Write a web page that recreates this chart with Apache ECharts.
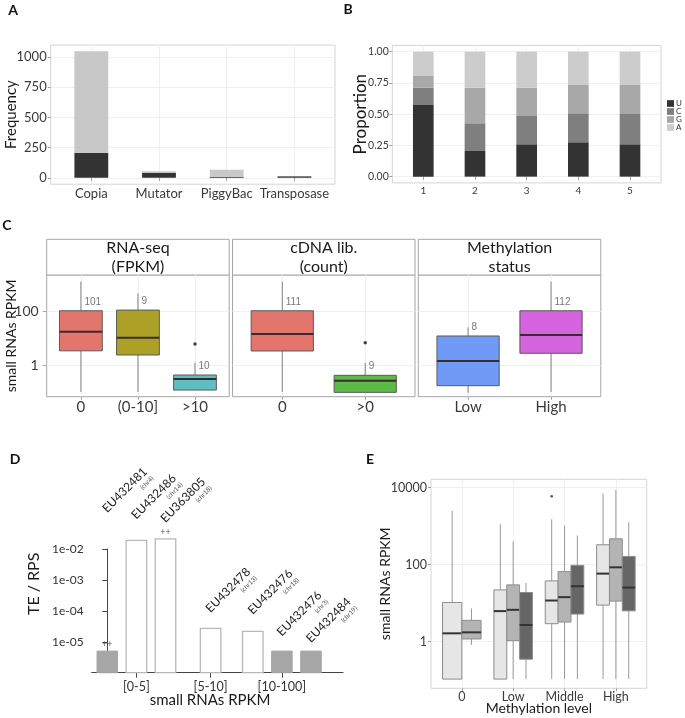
<!DOCTYPE html>
<html><head><meta charset="utf-8">
<script src="https://cdn.jsdelivr.net/npm/echarts@6/dist/echarts.min.js"></script>
<style>html,body{margin:0;padding:0;background:#fff}#c{width:685px;height:718px}</style>
</head><body><div id="c"></div>
<script>
// ================= DATA =================
// Panel A
const aCategories = ['Copia', 'Mutator', 'PiggyBac', 'Transposase'];
const aDark = [207, 40, 10, 14];
const aLight = [839, 15, 58, 2];
const aTicks = [0, 250, 500, 750, 1000];
// Panel B
const bPositions = ['1', '2', '3', '4', '5'];
const bU = [0.573, 0.205, 0.259, 0.275, 0.259];
const bC = [0.139, 0.222, 0.226, 0.232, 0.242];
const bG = [0.093, 0.285, 0.227, 0.226, 0.232];
const bA = [0.195, 0.288, 0.288, 0.267, 0.267];
const bTicks = [0, 0.25, 0.5, 0.75, 1];
// Panel C  (boxes: [lower whisker, Q1, median, Q3, upper whisker])
const cTicks = [1, 100];
const cRnaTitle = 'RNA-seq\n(FPKM)';
const cRnaCats = ['0', '(0-10]', '>10'];
const cRnaBoxes = [[0.11, 3.5, 17.5, 102, 1180], [0.11, 2.46, 10.6, 108, 444], [0.129, 0.129, 0.327, 0.457, 1.29]];
const cRnaCounts = [101, 9, 10];
const cRnaOutliers = [['>10', 6.2]];
const cCdnaTitle = 'cDNA lib.\n(count)';
const cCdnaCats = ['0', '>0'];
const cCdnaBoxes = [[0.11, 3.45, 14.4, 102, 1180], [0.106, 0.106, 0.283, 0.445, 1.29]];
const cCdnaCounts = [111, 9];
const cCdnaOutliers = [['>0', 6.9]];
const cMethTitle = 'Methylation\nstatus';
const cMethCats = ['Low', 'High'];
const cMethBoxes = [[0.103, 0.186, 1.49, 12.2, 25.3], [0.11, 2.84, 13.2, 102, 1180]];
const cMethCounts = [8, 112];
const cMethOutliers = [];
// Panel D
const dIds = ['EU432481', 'EU432486', 'EU363805', 'EU432478', 'EU432476', 'EU432476', 'EU432484'];
const dChr = ['(chr4)', '(chr14)', '(chr18)', '(chr13)', '(chr18)', '(chr3)', '(chr19)'];
const dSlot = [0, 1, 2, 3.55, 5, 6, 7];
const dValues = [5e-6, 0.0191, 0.0211, 2.72e-5, 2.17e-5, 5e-6, 5e-6];
const dDetected = [false, true, true, true, true, false, false];
const dMarks = ['++', '', '++', '', '', '', ''];
const dLabelAt = [0.143, 0.087, 0.068, 8.3e-5, 7.3e-5, 1.45e-5, 8.9e-6];
const dGroups = ['[0-5]', '[5-10]', '[10-100]'];
const dGroupBar = [1, 3, 5];
const dTicks = [1e-5, 1e-4, 1e-3, 1e-2];
// Panel E
const eCats = ['0', 'Low', 'Middle', 'High'];
const eLight = [[0.106, 0.106, 1.64, 10.4, 2540], [0.106, 0.106, 6.2, 22.1, 1150], [0.106, 2.92, 11.7, 37.8, 1517], [0.106, 8.88, 58.5, 329, 7130]];
const eMid = [[0.82, 1.17, 1.74, 3.56, 7.3], [0.106, 1.06, 6.7, 29.8, 401], [0.106, 3.23, 14.3, 65.9, 1020], [0.106, 11.3, 85.3, 470, 8880]];
const eDark = [null, [0.106, 0.349, 2.7, 18.9, 33.6], [0.106, 5.2, 27.5, 96, 574], [0.106, 6.3, 25.4, 164, 1270]];
const eOutliers = [['Middle', 0, 5970]];
const eTicks = [1, 100, 10000];

// ================= LAYOUT / STYLE =================
const FONT = 'Lato, "Open Sans", sans-serif';
const grids = [
  {left: 50.7, top: 45, width: 284.3, height: 139.2},   // A
  {left: 392.3, top: 45.4, width: 268.7, height: 137.5}, // B
  {left: 46.7, top: 275, width: 182.5, height: 121.7},  // C1
  {left: 232.5, top: 275, width: 182.5, height: 121.7}, // C2
  {left: 418.3, top: 275, width: 182.5, height: 121.7}, // C3
  {left: 91.7, top: 549, width: 251.3, height: 123.7},  // D
  {left: 431, top: 479.3, width: 215.7, height: 209}    // E
];
const frameColors = ['#d4d4d4', '#d4d4d4', '#a6a6a6', '#a6a6a6', '#a6a6a6', null, '#d4d4d4'];
const gridOpt = grids.map((g, i) => Object.assign({
  containLabel: false, outerBoundsMode: 'none',
  show: !!frameColors[i], borderColor: frameColors[i] || 'transparent', borderWidth: 1, backgroundColor: 'transparent'
}, g));

const faint = {show: true, lineStyle: {color: '#f0f0f0', width: 1}};
function discreteX(gi, cats, fs, margin, showTicks) {
  const vals = cats.map((c, i) => i + 1);
  return {
    gridIndex: gi, type: 'value', min: 0.4, max: cats.length + 0.6,
    axisLine: {show: false},
    axisTick: {show: showTicks !== false, length: 3, customValues: vals, lineStyle: {color: '#a0a0a0'}},
    axisLabel: {customValues: vals, formatter: v => cats[Math.round(v) - 1], fontSize: fs, color: '#3a3a3a', fontFamily: FONT, margin: margin},
    splitLine: faint, nameMoveOverlap: false
  };
}
const logFmt = v => v >= 1 ? String(Math.round(v)) : String(v);
const sciFmt = v => { const e = Math.round(Math.log10(v)); return '1e' + (e < 0 ? '-' : '+') + String(Math.abs(e)).padStart(2, '0'); };

// ================= AXES =================
const aMax = Math.max(...aDark.map((v, i) => v + aLight[i]));
const xAxes = [], yAxes = [];
// A
xAxes.push(discreteX(0, aCategories, 13, 3));
yAxes.push({gridIndex: 0, type: 'value', min: -0.05 * aMax, max: 1.05 * aMax,
  axisLine: {show: false}, axisTick: {show: true, length: 3, customValues: aTicks, lineStyle: {color: '#a0a0a0'}},
  axisLabel: {customValues: aTicks, formatter: v => String(v), fontSize: 13, color: '#3a3a3a', fontFamily: FONT, margin: 4},
  splitLine: faint,
  name: 'Frequency', nameLocation: 'middle', nameGap: 32.5, nameRotate: 90, nameMoveOverlap: false,
  nameTextStyle: {fontSize: 15, color: '#1a1a1a', fontFamily: FONT}});
// B
xAxes.push(discreteX(1, bPositions, 10, 3));
yAxes.push({gridIndex: 1, type: 'value', min: -0.05, max: 1.05,
  axisLine: {show: false}, axisTick: {show: true, length: 3, customValues: bTicks, lineStyle: {color: '#a0a0a0'}},
  axisLabel: {customValues: bTicks, formatter: v => v.toFixed(2), fontSize: 10.5, color: '#3a3a3a', fontFamily: FONT, margin: 3.5},
  splitLine: faint,
  name: 'Proportion', nameLocation: 'middle', nameGap: 23, nameRotate: 90, nameMoveOverlap: false,
  nameTextStyle: {fontSize: 17, color: '#1a1a1a', fontFamily: FONT}});
// C
const cFacets = [
  {title: cRnaTitle, cats: cRnaCats, boxes: cRnaBoxes, counts: cRnaCounts, outliers: cRnaOutliers, colors: ['#E3756C', '#ADA027', '#5EBEC4']},
  {title: cCdnaTitle, cats: cCdnaCats, boxes: cCdnaBoxes, counts: cCdnaCounts, outliers: cCdnaOutliers, colors: ['#E3756C', '#5EBA48']},
  {title: cMethTitle, cats: cMethCats, boxes: cMethBoxes, counts: cMethCounts, outliers: cMethOutliers, colors: ['#6F9BF6', '#D463DD']}
];
cFacets.forEach((f, k) => {
  const gi = 2 + k;
  xAxes.push(discreteX(gi, f.cats, 15, 3));
  const y = {gridIndex: gi, type: 'log', logBase: 10, min: Math.pow(10, -1.133), max: Math.pow(10, 3.316),
    axisLine: {show: false},
    axisTick: {show: k === 0, length: 4, customValues: cTicks, lineStyle: {color: '#a0a0a0'}},
    axisLabel: {show: k === 0, customValues: cTicks, formatter: logFmt, fontSize: 14, color: '#3a3a3a', fontFamily: FONT, margin: 8},
    splitLine: faint, nameMoveOverlap: false};
  if (k === 0) Object.assign(y, {name: 'small RNAs RPKM', nameLocation: 'middle', nameGap: 28, nameRotate: 90,
    nameTextStyle: {fontSize: 14, color: '#1a1a1a', fontFamily: FONT}});
  yAxes.push(y);
});
// D
const dTickSlots = dGroupBar.map(i => dSlot[i]);
xAxes.push({gridIndex: 5, type: 'value', min: -0.536, max: 8.1,
  axisLine: {show: true, lineStyle: {color: '#444', width: 1}},
  axisTick: {show: true, length: 5, customValues: dTickSlots, lineStyle: {color: '#444'}},
  axisLabel: {customValues: dTickSlots, formatter: v => dGroups[dTickSlots.findIndex(s => Math.abs(s - v) < 1e-6)], fontSize: 12.5, color: '#333', fontFamily: FONT, margin: 8},
  splitLine: {show: false}, nameMoveOverlap: false,
  name: 'small RNAs RPKM', nameLocation: 'middle', nameGap: 20,
  nameTextStyle: {fontSize: 15, color: '#1a1a1a', fontFamily: FONT, padding: [0, 14.6, 0, 0]}});
yAxes.push({gridIndex: 5, type: 'log', logBase: 10, min: 1e-6, max: 1e-2,
  axisLine: {show: true, lineStyle: {color: '#444', width: 1}},
  axisTick: {show: true, length: 5, customValues: dTicks, lineStyle: {color: '#444'}},
  axisLabel: {customValues: dTicks, formatter: sciFmt, fontSize: 12, color: '#333', fontFamily: FONT, margin: 8},
  splitLine: {show: false}, nameMoveOverlap: false,
  name: 'TE / RPS', nameLocation: 'middle', nameGap: 50, nameRotate: 90,
  nameTextStyle: {fontSize: 16, color: '#1a1a1a', fontFamily: FONT, padding: [0, 0, 0, 54]}});
// E
xAxes.push(Object.assign(discreteX(6, eCats, 12.5, 2), {
  name: 'Methylation level', nameLocation: 'middle', nameGap: 13,
  nameTextStyle: {fontSize: 14, color: '#1a1a1a', fontFamily: FONT}}));
yAxes.push({gridIndex: 6, type: 'log', logBase: 10, min: Math.pow(10, -1.214), max: Math.pow(10, 4.219),
  axisLine: {show: false},
  axisTick: {show: true, length: 3, customValues: eTicks, lineStyle: {color: '#a0a0a0'}},
  axisLabel: {customValues: eTicks, formatter: logFmt, fontSize: 12.5, color: '#3a3a3a', fontFamily: FONT, margin: 4},
  splitLine: faint, nameMoveOverlap: false,
  name: 'small RNAs RPKM', nameLocation: 'middle', nameGap: 39, nameRotate: 90,
  nameTextStyle: {fontSize: 14, color: '#1a1a1a', fontFamily: FONT}});

// ================= SERIES =================
const series = [];
// stacked bars drawn through the axes' scales (layers stacked bottom -> top)
function stackedBars(ai, layers, widthUnits) {
  const base = layers[0].values.map(() => 0);
  layers.forEach(layer => {
    const rows = layer.values.map((v, i) => [i + 1, base[i] + v, base[i]]);
    layer.values.forEach((v, i) => { base[i] += v; });
    series.push({type: 'custom', name: layer.name, xAxisIndex: ai, yAxisIndex: ai, silent: true,
      itemStyle: {color: layer.color},
      dimensions: ['x', 'top', 'bottom'], encode: {x: 'x', y: ['top', 'bottom']},
      data: rows,
      renderItem: function (params, api) {
        const x = api.value(0);
        const t = api.coord([x - widthUnits / 2, api.value(1)]);
        const b = api.coord([x + widthUnits / 2, api.value(2)]);
        return {type: 'rect', shape: {x: t[0], y: t[1], width: b[0] - t[0], height: b[1] - t[1]},
          style: {fill: layer.color}};
      }});
  });
}
// A
stackedBars(0, [{name: 'A-dark', values: aDark, color: '#333333'}, {name: 'A-light', values: aLight, color: '#c8c8c8'}], 0.5);
// B
stackedBars(1, [{name: 'U', values: bU, color: '#333333'}, {name: 'C', values: bC, color: '#7f7f7f'},
  {name: 'G', values: bG, color: '#a8a8a8'}, {name: 'A', values: bA, color: '#cccccc'}], 0.4);

// Box drawing through the axes' own scales
function boxSeries(ai, items) {
  return {
    type: 'custom', xAxisIndex: ai, yAxisIndex: ai, clip: false, silent: true,
    dimensions: ['x', 'lo', 'q1', 'med', 'q3', 'hi', 'w'],
    encode: {x: 'x', y: ['lo', 'q1', 'med', 'q3', 'hi']},
    data: items.map(it => [it.x].concat(it.box, [it.w])),
    renderItem: function (params, api) {
      const it = items[params.dataIndex];
      const x = api.value(0), w = api.value(6);
      const lo = api.coord([x, api.value(1)]), q1 = api.coord([x, api.value(2)]);
      const md = api.coord([x, api.value(3)]), q3 = api.coord([x, api.value(4)]), hi = api.coord([x, api.value(5)]);
      const xl = api.coord([x - w / 2, api.value(3)])[0], xr = api.coord([x + w / 2, api.value(3)])[0];
      const cx = md[0];
      return {type: 'group', children: [
        {type: 'line', shape: {x1: cx, y1: hi[1], x2: cx, y2: q3[1]}, style: {stroke: it.whisker, lineWidth: 1}},
        {type: 'line', shape: {x1: cx, y1: q1[1], x2: cx, y2: lo[1]}, style: {stroke: it.whisker, lineWidth: 1}},
        {type: 'rect', shape: {x: xl, y: q3[1], width: xr - xl, height: q1[1] - q3[1]}, style: {fill: it.fill, stroke: it.stroke, lineWidth: 1}},
        {type: 'line', shape: {x1: xl, y1: md[1], x2: xr, y2: md[1]}, style: {stroke: it.median, lineWidth: 2}}
      ]};
    }
  };
}
// C
cFacets.forEach((f, k) => {
  const ai = 2 + k;
  series.push(boxSeries(ai, f.boxes.map((b, i) => ({x: i + 1, w: 0.75, box: b, fill: f.colors[i], stroke: '#5a5a5a', median: '#3b2b2b', whisker: '#808080'}))));
  series.push({type: 'scatter', xAxisIndex: ai, yAxisIndex: ai, symbolSize: 3.5, silent: true, clip: false, itemStyle: {color: '#111'},
    data: f.outliers.map(o => [f.cats.indexOf(o[0]) + 1, o[1]])});
  series.push({type: 'scatter', xAxisIndex: ai, yAxisIndex: ai, symbolSize: 1, silent: true, clip: false, itemStyle: {color: 'rgba(0,0,0,0)'},
    data: f.boxes.map((b, i) => [i + 1, b[3] * 2.1, f.counts[i]]),
    label: {show: true, position: 'right', distance: 3, formatter: p => String(p.value[2]), fontSize: 10, color: '#555', fontFamily: '"Liberation Sans", Arial, sans-serif'}});
});
// D bars
const dBarW = 0.705;
series.push({type: 'custom', xAxisIndex: 5, yAxisIndex: 5, clip: false, silent: true,
  data: dSlot.map((s, i) => [s, dValues[i]]),
  renderItem: function (params, api) {
    const i = params.dataIndex;
    const x = api.value(0), v = api.value(1);
    const top = api.coord([x, v])[1], base = api.coord([x, 1e-6])[1];
    const xl = api.coord([x - dBarW / 2, v])[0], xr = api.coord([x + dBarW / 2, v])[0];
    return {type: 'rect', shape: {x: xl, y: top, width: xr - xl, height: base - top},
      style: dDetected[i] ? {fill: '#ffffff', stroke: '#b8b8b8', lineWidth: 1.3} : {fill: '#a6a6a6', stroke: '#a6a6a6', lineWidth: 1}};
  }});
series.push({type: 'scatter', xAxisIndex: 5, yAxisIndex: 5, symbolSize: 1, silent: true, clip: false, itemStyle: {color: 'rgba(0,0,0,0)'},
  data: dSlot.map((s, i) => [s, dValues[i]]),
  labelLayout: {hideOverlap: false},
  label: {show: true, position: 'top', distance: 2, formatter: p => dMarks[p.dataIndex], fontSize: 9, color: '#333', fontFamily: FONT}});
// D rotated TE labels
const mctx = document.createElement('canvas').getContext('2d');
function tw(t, font) { mctx.font = font; return mctx.measureText(t).width; }
const dIdFont = '12px ' + FONT, dChrFont = '6.5px ' + FONT;
series.push({type: 'custom', xAxisIndex: 5, yAxisIndex: 5, clip: false, silent: true,
  data: dSlot.map((s, i) => [s, dLabelAt[i]]),
  renderItem: function (params, api) {
    const i = params.dataIndex;
    const p = api.coord([api.value(0), api.value(1)]);
    const w = tw(dIds[i], dIdFont);
    return {type: 'group', x: p[0], y: p[1], rotation: Math.PI / 4, children: [
      {type: 'text', x: 0, y: 2, style: {text: dIds[i], font: dIdFont, fill: '#222', textAlign: 'left', textVerticalAlign: 'bottom'}},
      {type: 'text', x: w, y: 3, style: {text: dChr[i], font: dChrFont, fill: '#555', textAlign: 'right', textVerticalAlign: 'top'}}
    ]};
  }});
// E
const eGroups = [[eLight, '#e6e6e6'], [eMid, '#b4b4b4'], [eDark, '#666666']];
const eItems = [];
const eOutPts = [];
eCats.forEach((c, ci) => {
  const present = eGroups.map((g, gi) => gi).filter(gi => eGroups[gi][0][ci]);
  const k = present.length, w = 0.75 / k;
  present.forEach((gi, j) => {
    const x = ci + 1 - 0.375 + (j + 0.5) * w;
    eItems.push({x: x, w: w, box: eGroups[gi][0][ci], fill: eGroups[gi][1], stroke: '#8c8c8c', median: '#333333', whisker: '#999999'});
    eOutliers.forEach(o => { if (o[0] === c && o[1] === gi) eOutPts.push([x, o[2]]); });
  });
});
series.push(boxSeries(6, eItems));
series.push({type: 'scatter', xAxisIndex: 6, yAxisIndex: 6, symbolSize: 2.5, silent: true, clip: false, itemStyle: {color: '#222'}, data: eOutPts});

// ================= GRAPHIC (panel letters, facet strips) =================
const graphic = [];
[['A', 13, 10], ['B', 348, 9], ['C', 7, 225], ['D', 15, 459], ['E', 370, 459]].forEach(([t, x, y]) => {
  graphic.push({type: 'text', x: x, y: y, style: {text: t, font: 'bold 14px ' + FONT, fill: '#111', textAlign: 'center', textVerticalAlign: 'middle'}});
});
cFacets.forEach((f, k) => {
  const g = grids[2 + k];
  graphic.push({type: 'rect', shape: {x: g.left, y: 239.3, width: g.width, height: 35.7}, style: {fill: '#fff', stroke: '#a6a6a6', lineWidth: 1}});
  graphic.push({type: 'text', x: g.left + g.width / 2, y: 257.6, style: {text: f.title, font: '16px ' + FONT, fill: '#1a1a1a', textAlign: 'center', textVerticalAlign: 'middle', lineHeight: 19}});
});

const option = {
  animation: false,
  backgroundColor: '#ffffff',
  textStyle: {fontFamily: FONT},
  grid: gridOpt,
  xAxis: xAxes,
  yAxis: yAxes,
  legend: {data: ['U', 'C', 'G', 'A'], orient: 'vertical', left: 667, top: 99.5, padding: 0,
    itemWidth: 7, itemHeight: 6.7, itemGap: 0, icon: 'rect', selectedMode: false,
    textStyle: {fontSize: 8, lineHeight: 6.7, color: '#333', fontFamily: FONT, padding: [0, 0, 0, -3]}},
  graphic: graphic,
  series: series
};
const chart = echarts.init(document.getElementById('c'));
chart.setOption(option);
</script>
</body></html>
